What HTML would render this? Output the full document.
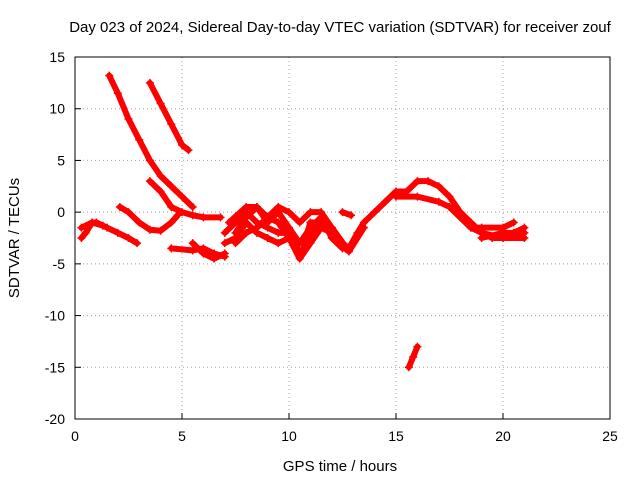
<!DOCTYPE html>
<html><head><meta charset="utf-8"><style>
body{margin:0;background:#fff;}
svg{display:block;font-family:"Liberation Sans",sans-serif;}
</style></head><body>
<svg id="chart" width="640" height="480" viewBox="0 0 640 480">
<text x="340" y="32" font-size="15" text-anchor="middle">Day 023 of 2024, Sidereal Day-to-day VTEC variation (SDTVAR) for receiver zouf</text>
<text x="340" y="471" font-size="15" text-anchor="middle">GPS time / hours</text>
<text transform="translate(19,238) rotate(-90)" font-size="15" text-anchor="middle">SDTVAR / TECUs</text>
<g id="grid"></g><g id="axes"></g><g id="data"></g>
</svg>
<script>
const xTicks=[0,5,10,15,20,25];
const yTicks=[15,10,5,0,-5,-10,-15,-20];
const track1X=[1.6,2.0,2.5,3.0,3.5,4.0,4.5,5.0,5.5];
const track1Y=[13.2,11.5,9,7,5,3.5,2.5,1.5,0.5];
const track2X=[3.5,4.0,4.5,5.0,5.3];
const track2Y=[12.5,10.5,8.5,6.5,6];
const track3X=[3.5,4.0,4.5,5.0,5.5,6.0,6.8];
const track3Y=[3,2,0.5,0,-0.3,-0.5,-0.5];
const track4X=[0.3,0.5,0.8,1.0,1.5,2.0,2.5,2.9];
const track4Y=[-2.5,-2,-1,-1,-1.5,-2,-2.5,-3];
const track5X=[0.3,0.8,1.3];
const track5Y=[-1.5,-1,-1.3];
const track6X=[2.1,2.5,3.0,3.5,4.0,4.5,4.8];
const track6Y=[0.5,0,-1,-1.7,-1.8,-1,-0.3];
const track7X=[4.5,5.5,6.0,6.5,7.0];
const track7Y=[-3.5,-3.7,-3.5,-4,-4.3];
const track8X=[5.5,6,6.5,7];
const track8Y=[-3,-4,-4.5,-4];
const track9X=[7.0,7.5,8,8.5,9,9.5,10,10.5,11,11.5,12,12.5,12.8,13.2,13.5,14,14.5,15,15.5,16,16.5,17,17.5,18,18.5,19,19.5,20,20.5,21];
const track9Y=[-2,-1,0,-1,-1.5,-2,-2,-4,-2.5,-1,-1.5,-3,-3.5,-2,-1,0,1,2,2,3,3,2.5,1.5,0,-1,-2,-2.5,-2.5,-2,-1.5];
const track10X=[7.5,8,8.5,9,9.5,10,10.5,11,11.5,12,12.5];
const track10Y=[-2,-0.5,0.5,-1,0,-1.5,-3,-1.5,-0.5,-2.5,-3.5];
const track11X=[15,16,17,17.5,18,18.5,19,20,21];
const track11Y=[1.5,1.5,1,0.5,-0.5,-1.5,-2,-2.5,-2.5];
const track12X=[18.5,19,20,20.5];
const track12Y=[-1.5,-1.5,-1.5,-1];
const track13X=[19,20,21];
const track13Y=[-2.5,-2,-2];
const track14X=[15.6,15.8,16];
const track14Y=[-15,-14,-13];
const track15X=[12.5,12.9];
const track15Y=[0,-0.3];
const track16X=[7,7.5,8,8.5,9,9.5,10,10.5,11,11.5,12];
const track16Y=[-3,-2.5,-1,-2,-2.5,-3,-2.5,-4.5,-3,-1.5,-2];
const track17X=[7.2,8,8.5,9,9.5,10,10.5,11,11.5,12,12.7];
const track17Y=[-1,0.5,0.5,-0.5,0.5,0,-1,0,0,-1.5,-3.5];
const track18X=[7.5,8,8.5,9,9.5,10,10.7,11,11.5,12.3,12.8,13.5];
const track18Y=[-3,-2,-1.5,-0.5,-1,-2.5,-3,-1,-1,-3,-3.8,-1.5];
const tracks=[[track1X,track1Y],[track2X,track2Y],[track3X,track3Y],[track4X,track4Y],[track5X,track5Y],[track6X,track6Y],[track7X,track7Y],[track8X,track8Y],[track9X,track9Y],[track10X,track10Y],[track11X,track11Y],[track12X,track12Y],[track13X,track13Y],[track14X,track14Y],[track15X,track15Y],[track16X,track16Y],[track17X,track17Y],[track18X,track18Y]];
const L=75,R=610,T=57,B=419;
function sx(v){return L+(v-0)/(25-0)*(R-L);}
function sy(v){return T+(15-v)/(15-(-20))*(B-T);}
const NS="http://www.w3.org/2000/svg";
function mk(tag,attrs,parent){const e=document.createElementNS(NS,tag);for(const k in attrs)e.setAttribute(k,attrs[k]);document.getElementById(parent).appendChild(e);return e;}
xTicks.forEach(t=>{
  const x=sx(t);
  if(t>0&&t<25){const g=mk('line',{x1:x,x2:x,y1:T,y2:B,stroke:'#a0a0a0','stroke-dasharray':'1,3'},'grid');
  
  }
  const k=mk('line',{x1:x,x2:x,y1:B,y2:B-6,stroke:'#000'},'axes');
  
  
  const tx=mk('text',{x:x,y:B+22,'font-size':14,'text-anchor':'middle'},'axes');tx.textContent=t;
  
  
});
yTicks.forEach(t=>{
  const y=sy(t);
  if(t<15&&t>-20){const g=mk('line',{x1:L,x2:R,y1:y,y2:y,stroke:'#a0a0a0','stroke-dasharray':'1,3'},'grid');
  
  }
  const k=mk('line',{x1:L,x2:L+6,y1:y,y2:y,stroke:'#000'},'axes');
  
  
  const tx=mk('text',{x:L-10,y:y+5,'font-size':14,'text-anchor':'end'},'axes');tx.textContent=t;
  
  
});
const fr=mk('rect',{x:L,y:T,width:R-L,height:B-T,fill:'none',stroke:'#000'},'axes');


tracks.forEach(([xs,ys])=>{
  const pts=xs.map((x,i)=>sx(x)+','+sy(ys[i])).join(' ');
  const pl=mk('polyline',{points:pts,fill:'none',stroke:'#f00','stroke-width':6,'stroke-linejoin':'round','stroke-linecap':'round'},'data');
  
  
  xs.forEach((x,i)=>{
    const X=sx(x),Y=sy(ys[i]);
    const p=mk('path',{d:`M${X-4},${Y}H${X+4}M${X},${Y-4}V${Y+4}`,stroke:'#f00','stroke-width':1.5},'data');
    
    
  });
});
</script>
</body></html>
